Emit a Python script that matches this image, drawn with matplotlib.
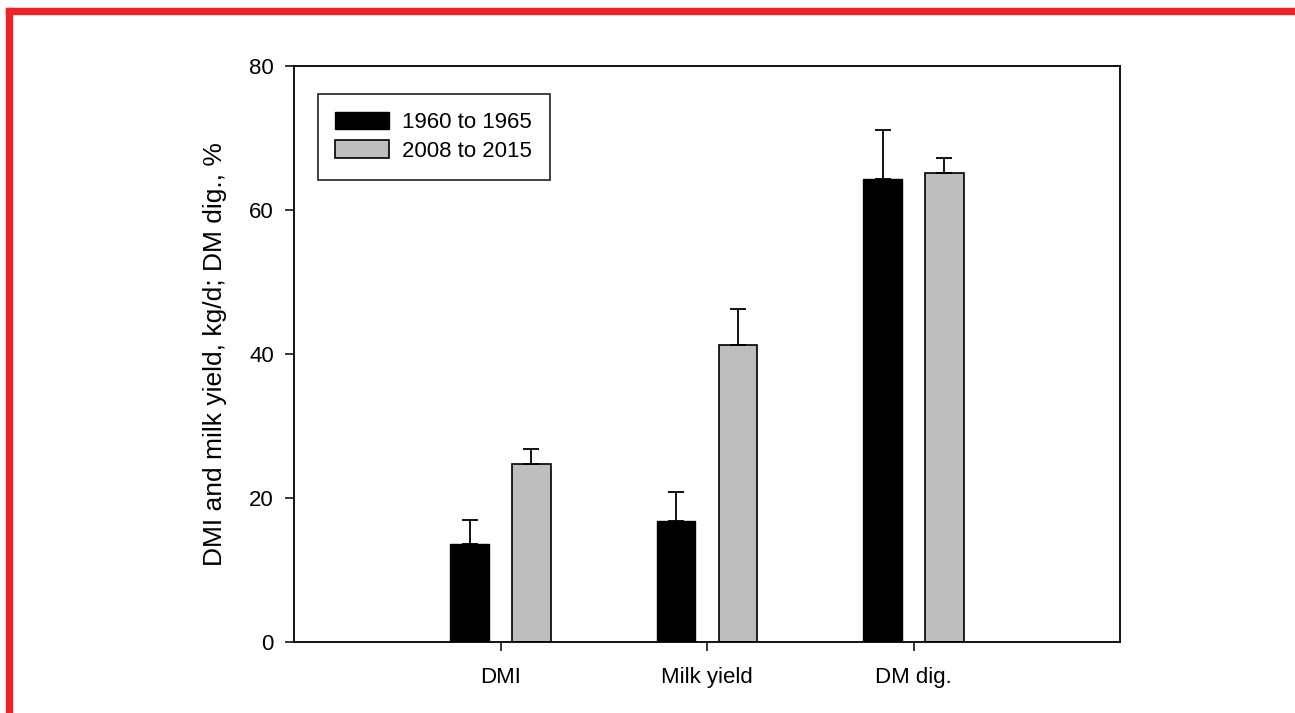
import matplotlib
matplotlib.use("Agg")
import matplotlib.pyplot as plt
from matplotlib.patches import Rectangle
import numpy as np

plt.rcParams['font.family'] = ['Liberation Sans', 'DejaVu Sans']

categories = ["DMI", "Milk yield", "DM dig."]
series_names = ["1960 to 1965", "2008 to 2015"]
vals_1960 = [13.7, 16.8, 64.2]
err_1960 = [3.3, 4.0, 6.9]
vals_2008 = [24.7, 41.2, 65.1]
err_2008 = [2.1, 5.0, 2.1]
yticks = [0, 20, 40, 60, 80]

W, H = 1295, 713
fig = plt.figure(figsize=(W / 100, H / 100), dpi=100)
ax = fig.add_axes([294 / W, 1 - 642.3 / H, (1120 - 294) / W, (642.3 - 65.5) / H])

x = np.arange(1, len(categories) + 1)
bw = 0.185
off = 0.15
ekw = dict(elinewidth=1.3, capthick=1.3, ecolor='black')
ax.bar(x - off, vals_1960, bw, color='black', edgecolor='black', linewidth=1.0,
       yerr=[np.zeros(3), err_1960], capsize=6, error_kw=ekw, label=series_names[0], zorder=2)
ax.bar(x + off, vals_2008, bw, color='#bebebe', edgecolor='black', linewidth=1.2,
       yerr=[np.zeros(3), err_2008], capsize=6, error_kw=ekw, label=series_names[1], zorder=2)

fs = 16
ax.set_xlim(0, 4)
ax.set_ylim(0, 80)
ax.set_xticks(x)
ax.set_xticklabels(categories)
ax.set_yticks(yticks)
ax.set_yticklabels([str(t) for t in yticks])
ax.tick_params(axis='both', direction='out', length=6.5, width=1.1, labelsize=fs, colors='black')
ax.tick_params(axis='x', pad=11)
ax.tick_params(axis='y', pad=8)
for s in ax.spines.values():
    s.set_linewidth(1.3)

ax.set_ylabel("DMI and milk yield, kg/d; DM dig., %", fontsize=19)
ax.yaxis.set_label_coords((227 - 294) / (1120 - 294), 0.5)

leg = ax.legend(loc='upper left', bbox_to_anchor=((317.7 - 294) / 826, 1 - (94.3 - 65.5) / 576.8),
                fontsize=fs, frameon=True, fancybox=False, handlelength=2.4, handleheight=0.81,
                handletextpad=0.6, borderpad=0.8, labelspacing=0.32, borderaxespad=0)
leg.get_frame().set_edgecolor('black')
leg.get_frame().set_linewidth(1.3)

# red frame on top and left
red = '#ee2229'
fig.patches.append(Rectangle((6 / W, 0), 5.5 / W, 1 - 8 / H, transform=fig.transFigure,
                             color=red, zorder=10))
fig.patches.append(Rectangle((6 / W, 1 - 13.5 / H), 1 - 6 / W, 5.5 / H, transform=fig.transFigure,
                             color=red, zorder=10))

fig.savefig("out.png", dpi=100)
